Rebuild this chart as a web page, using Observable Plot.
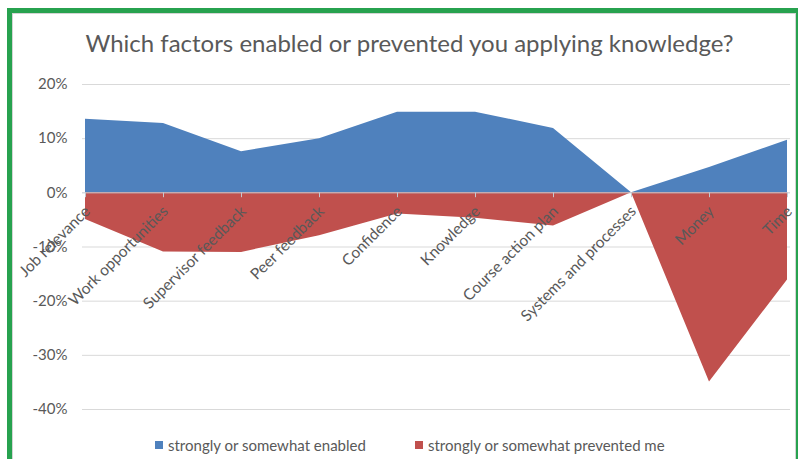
<!DOCTYPE html>
<html><head><meta charset="utf-8">
<script src="https://cdn.jsdelivr.net/npm/d3@7"></script>
<script src="https://cdn.jsdelivr.net/npm/@observablehq/plot@0.6"></script>
<style>
body{margin:0;background:#fff;font-family:Lato,"Open Sans",sans-serif}
#wrap{position:relative;width:798px;height:459px;overflow:hidden;background:#fff}
#frame{position:absolute;left:7px;top:8px;width:784px;height:500px;border:5px solid #27a24f}
#inner{position:absolute;left:12px;top:13px;width:782px;height:500px;border:1px solid #d4d4d4}
#title{position:absolute;left:0;top:31px;width:819px;text-align:center;font-size:24px;color:#595959;line-height:1;white-space:nowrap}
.leg{position:absolute;top:438px;font-size:15px;color:#595959;line-height:15px;white-space:nowrap}
.sw{position:absolute;top:441px;width:8px;height:8px}
svg{position:absolute;left:0;top:0}
</style></head>
<body><div id="wrap"><div id="frame"></div><div id="inner"></div>
<div id="title">Which factors enabled or prevented you applying knowledge?</div>
<div class="sw" style="left:155px;background:#4f81bd"></div><div class="leg" style="left:168px">strongly or somewhat enabled</div>
<div class="sw" style="left:415px;background:#c0504d"></div><div class="leg" style="left:428px">strongly or somewhat prevented me</div>
</div>
<script>
const categories = ["Job relevance","Work opportunities","Supervisor feedback","Peer feedback","Confidence","Knowledge","Course action plan","Systems and processes","Money","Time"];
const enabled = [0.136,0.128,0.076,0.10,0.149,0.149,0.119,0,0.047,0.097];
const prevented = [-0.049,-0.109,-0.11,-0.079,-0.039,-0.047,-0.061,0,-0.349,-0.161];
const yTicks = [-0.4,-0.3,-0.2,-0.1,0,0.1,0.2];
const blue = "#4f81bd", red = "#c0504d", txt = "#595959";
const data = categories.map((c,i)=>({c, e: enabled[i], p: prevented[i]}));
const chart = Plot.plot({
  width: 798, height: 459,
  marginLeft: 82, marginRight: 8, marginTop: 84, marginBottom: 50,
  x: {type: "point", domain: categories, padding: 0, axis: null},
  y: {domain: [-0.4, 0.2], axis: null},
  style: {background: "transparent", fontFamily: "Lato, 'Open Sans', sans-serif", overflow: "visible"},
  marks: [
    Plot.ruleY(yTicks.filter(v => v !== 0), {stroke: "#d9d9d9"}),
    Plot.areaY(data, {x: "c", y1: 0, y2: "e", fill: blue}),
    Plot.areaY(data, {x: "c", y1: 0, y2: "p", fill: red}),
    Plot.ruleY([0], {stroke: "#c3c8d0"}),
    Plot.ruleX(categories, {x: d => d, y1: 0, y2: -0.009, stroke: "#c3c8d0"}),
    Plot.text(yTicks, {y: d => d, text: d => Math.round(d * 100) + "%", frameAnchor: "left", textAnchor: "end", dx: -15, fill: txt, fontSize: 15}),
    Plot.text(categories, {x: d => d, y: 0, text: d => d, rotate: -45, textAnchor: "end", dx: 2, dy: 16, fill: txt, fontSize: 15.5})
  ]
});
document.getElementById("wrap").appendChild(chart);
</script>
</body></html>
